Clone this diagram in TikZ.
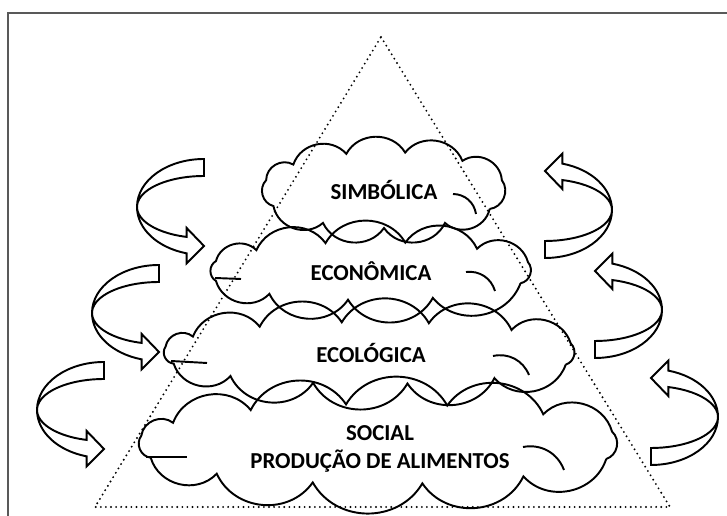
\documentclass[tikz,border=0pt]{standalone}
\usepackage{fontspec}
\setmainfont{Carlito}[BoldFont={Carlito Bold}]
\usetikzlibrary{calc}
\def\curvedarrow(#1)(#2){\draw[line width=1.1pt, shift={(#1)}, rotate=#2] (67, 48) arc[start angle=90, end angle=255, x radius=67, y radius=48] -- ++(0, -10) -- (67, -39) -- (49.66, -21) -- (49.66, -29.94) arc[start angle=255, end angle=90, x radius=67, y radius=31] -- cycle;}
\def\nuvem(#1)(#2)(#3)(#4){\draw[line width=1.1pt, shift={(#1)}] (#3:#2) \foreach \a in {#4} { to[bend right=60, looseness=1.1] (\a:#2) };}
\tikzset{rotulo/.style={align=center, font=\bfseries\fontsize{13}{15.5}\selectfont, inner sep=0pt}}

\begin{document}
\begin{tikzpicture}[x=0.02cm, y=0.02cm]
		%%%%% START %%%%%
		\useasboundingbox (0, 0) rectangle (727, 516);
		\draw[line width=0.9pt, color=black!65] (8, 503) rectangle (760, -40);
		
		\draw[line width=1.2pt, line cap=round, dash pattern=on 0pt off 2.9pt] (381, 479) -- (670, 9) -- (95, 9) -- cycle;
		
		\node[rotulo] (simbolica) at (384, 326) {SIMBÓLICA};
		\node[rotulo] (economica) at (371, 245) {ECONÔMICA};
		\node[rotulo] (ecologica) at (371, 163) {ECOLÓGICA};
		\node[rotulo] (social) at (380, 67) {SOCIAL\\PRODUÇÃO DE ALIMENTOS};
		
		\nuvem(simbolica)(122 and 38)(-30)(15, 50, 80, 108, 138, 165, 205, 240, 270, 300, 330)
		\nuvem(economica)(165 and 29)(-25)(18, 50, 78, 106, 134, 160, 200, 232, 262, 292, 335)
		\nuvem(ecologica)(210 and 31)(-22)(18, 48, 74, 98, 122, 148, 168, 200, 228, 254, 280, 306, 338)
		\nuvem($(social)+(0, 5)$)(244 and 40)(-22)(18, 48, 74, 98, 122, 148, 168, 200, 228, 254, 280, 306, 338)
		
		% ganchos
		\draw[line width=1.1pt, shift={(simbolica)}] (69, -4) to[bend left=40] (92, -24);
		\draw[line width=1.1pt, shift={(economica)}] (-156, -7) -- (-130, -8);
		\draw[line width=1.1pt, shift={(economica)}] (95, -1) to[bend left=40] (124, -20);
		\draw[line width=1.1pt, shift={(ecologica)}] (-200, -8) -- (-164, -10);
		\draw[line width=1.1pt, shift={(ecologica)}] (122, -3) to[bend left=40] (158, -22);
		\draw[line width=1.1pt, shift={(social)}] (-234, -8) -- (-193, -8);
		\draw[line width=1.1pt, shift={(social)}] (143, 2) to[bend left=40] (184, -21);
		
		\curvedarrow(137, 309)(0)
		\curvedarrow(92, 203)(0)
		\curvedarrow(37, 106)(0)
		
		\curvedarrow(612, 306)(180)
		\curvedarrow(662, 206)(180)
		\curvedarrow(718, 99)(180)
		%%%%% END %%%%%
\end{tikzpicture}
\end{document}
